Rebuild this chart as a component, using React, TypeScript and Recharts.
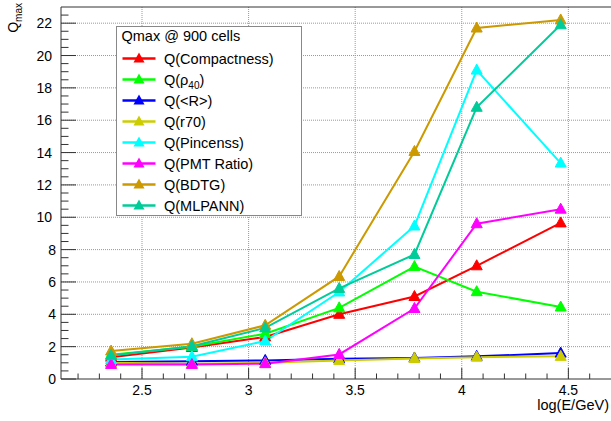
import React from 'react';
import { LineChart, Line, XAxis, YAxis, CartesianGrid, ReferenceLine, Legend } from 'recharts';

const logE = [2.355, 2.734, 3.078, 3.425, 3.778, 4.07, 4.464];
const qCompactness = [1.35, 1.95, 2.6, 4.0, 5.1, 7.0, 9.65];
const qRho40 = [1.5, 2.0, 2.8, 4.4, 6.95, 5.4, 4.45];
const qMeanR = [1.05, 1.1, 1.15, 1.25, 1.3, 1.4, 1.6];
const qR70 = [1.0, 0.95, 1.0, 1.15, 1.27, 1.35, 1.4];
const qPincenss = [1.2, 1.38, 2.35, 5.38, 9.46, 19.1, 13.35];
const qPmtRatio = [0.9, 0.9, 0.95, 1.52, 4.36, 9.6, 10.5];
const qBdtg = [1.73, 2.18, 3.32, 6.34, 14.07, 21.7, 22.2];
const qMlpann = [1.46, 2.03, 3.16, 5.6, 7.7, 16.8, 21.9];

const xTicks = [2.2, 2.3, 2.4, 2.5, 2.6, 2.7, 2.8, 2.9, 3, 3.1, 3.2, 3.3, 3.4, 3.5, 3.6, 3.7, 3.8, 3.9, 4, 4.1, 4.2, 4.3, 4.4, 4.5, 4.6];
const xMajor = [2.5, 3, 3.5, 4, 4.5];
const yTicks = [0, 0.5, 1, 1.5, 2, 2.5, 3, 3.5, 4, 4.5, 5, 5.5, 6, 6.5, 7, 7.5, 8, 8.5, 9, 9.5, 10, 10.5, 11, 11.5, 12, 12.5, 13, 13.5, 14, 14.5, 15, 15.5, 16, 16.5, 17, 17.5, 18, 18.5, 19, 19.5, 20, 20.5, 21, 21.5, 22, 22.5];
const yMajor = [0, 2, 4, 6, 8, 10, 12, 14, 16, 18, 20, 22];

const legendTitle = 'Qmax @ 900 cells';

const series = [
  { key: 'compactness', values: qCompactness, color: '#ff0000', label: 'Q(Compactness)' },
  { key: 'rho40', values: qRho40, color: '#00ff00', label: 'rho' },
  { key: 'meanR', values: qMeanR, color: '#0000ff', label: 'Q(<R>)' },
  { key: 'r70', values: qR70, color: '#cccc00', label: 'Q(r70)' },
  { key: 'pincenss', values: qPincenss, color: '#00ffff', label: 'Q(Pincenss)' },
  { key: 'pmtRatio', values: qPmtRatio, color: '#ff00ff', label: 'Q(PMT Ratio)' },
  { key: 'bdtg', values: qBdtg, color: '#cc9900', label: 'Q(BDTG)' },
  { key: 'mlpann', values: qMlpann, color: '#00cc99', label: 'Q(MLPANN)' },
];

const data = logE.map((x, i) => {
  const row: any = { x };
  series.forEach((s) => { row[s.key] = s.values[i]; });
  return row;
});

const FONT = '"Liberation Sans", Arial, Helvetica, sans-serif';
const AXIS = '#333333';

const triPath = (cx: number, cy: number) =>
  `M${cx},${cy - 6}L${cx - 5.5},${cy + 4}L${cx + 5.5},${cy + 4}Z`;

const makeDot = (color: string) => (props: any) => {
  const { cx, cy, index } = props;
  if (cx == null || cy == null) return <g key={index} />;
  return <path key={index} d={triPath(cx, cy)} fill={color} stroke={color} strokeWidth={1} />;
};

const XTick = (props: any) => {
  const { x, y, payload } = props;
  const v = payload.value;
  const major = xMajor.some((m) => Math.abs(m - v) < 1e-6);
  return (
    <g>
      <line x1={x} y1={y} x2={x} y2={y - (major ? 11 : 5.5)} stroke={AXIS} strokeWidth={1} />
      {major && (
        <text x={x} y={y + 16} textAnchor="middle" fontSize={14} fontFamily={FONT} fill="#000">
          {String(v)}
        </text>
      )}
    </g>
  );
};

const YTick = (props: any) => {
  const { x, y, payload } = props;
  const v = payload.value;
  const major = yMajor.includes(v);
  return (
    <g>
      <line x1={x} y1={y} x2={x + (major ? 15 : 7.5)} y2={y} stroke={AXIS} strokeWidth={1} />
      {major && (
        <text x={x - (v >= 10 ? 9 : 5)} y={y} dy="0.36em" textAnchor="end" fontSize={14} fontFamily={FONT} fill="#000">
          {String(v)}
        </text>
      )}
    </g>
  );
};

const renderYTitle = () => (
  <text
    x={18}
    y={3}
    transform="rotate(-90, 18, 3)"
    textAnchor="end"
    fontFamily={FONT}
    fontSize={14}
    fill="#000"
  >
    Q<tspan dy={4} fontSize={10}>max</tspan>
  </text>
);

const renderXTitle = () => (
  <text x={609} y={410} textAnchor="end" fontFamily={FONT} fontSize={14.5} fill="#000">
    log(E/GeV)
  </text>
);

const LegendBox = () => (
  <div
    style={{
      width: 186,
      height: 190,
      border: '1px solid #888',
      background: '#fff',
      boxSizing: 'border-box',
    }}
  >
    <svg width={184} height={188} style={{ display: 'block' }}>
      <text x={4.5} y={14} fontFamily={FONT} fontSize={14.5} fill="#000">{legendTitle}</text>
      {series.map((s, i) => {
        const cy = 31.5 + 21 * i;
        return (
          <g key={s.key}>
            <line x1={5.5} x2={38.5} y1={cy} y2={cy} stroke={s.color} strokeWidth={2.5} />
            <path d={triPath(22, cy)} fill={s.color} />
            <text x={47} y={cy} dy="0.36em" fontFamily={FONT} fontSize={14.5} fill="#000">
              {s.key === 'rho40' ? (
                <>
                  Q(ρ<tspan dy={4} fontSize={10}>40</tspan><tspan dy={-4}>)</tspan>
                </>
              ) : (
                s.label
              )}
            </text>
          </g>
        );
      })}
    </svg>
  </div>
);

export default function App() {
  return (
    <div style={{ position: 'absolute', left: 0, top: 0, width: 611, height: 421, background: '#fff' }}>
      <LineChart width={611} height={421} data={data} margin={{ top: 7, right: 0, left: 0, bottom: 0 }}>
        <CartesianGrid
          horizontal
          vertical
          horizontalValues={yMajor.slice(1)}
          verticalValues={xMajor}
          stroke="#999"
          strokeDasharray="1 1"
        />
        <XAxis
          type="number"
          dataKey="x"
          domain={[2.12, 4.7]}
          allowDataOverflow
          ticks={xTicks}
          interval={0}
          tickSize={0}
          tickMargin={0}
          tick={(p: any) => <XTick {...p} />}
          axisLine={{ stroke: AXIS, strokeWidth: 1 }}
          height={42}
          label={renderXTitle}
        />
        <YAxis
          type="number"
          domain={[0, 23]}
          allowDataOverflow
          ticks={yTicks}
          interval={0}
          tickSize={0}
          tickMargin={0}
          tick={(p: any) => <YTick {...p} />}
          axisLine={{ stroke: AXIS, strokeWidth: 1 }}
          width={61}
          label={renderYTitle}
        />
        <ReferenceLine y={23} stroke={AXIS} strokeWidth={1} ifOverflow="visible" />
        {series.map((s) => (
          <Line
            key={s.key}
            type="linear"
            dataKey={s.key}
            stroke={s.color}
            strokeWidth={2}
            dot={makeDot(s.color)}
            activeDot={false}
            isAnimationActive={false}
          />
        ))}
        <Legend
          layout="vertical"
          align="center"
          verticalAlign="middle"
          content={() => <LegendBox />}
          wrapperStyle={{ left: 115.5, top: 25.5, width: 186, height: 190, margin: 0 }}
        />
      </LineChart>
    </div>
  );
}
